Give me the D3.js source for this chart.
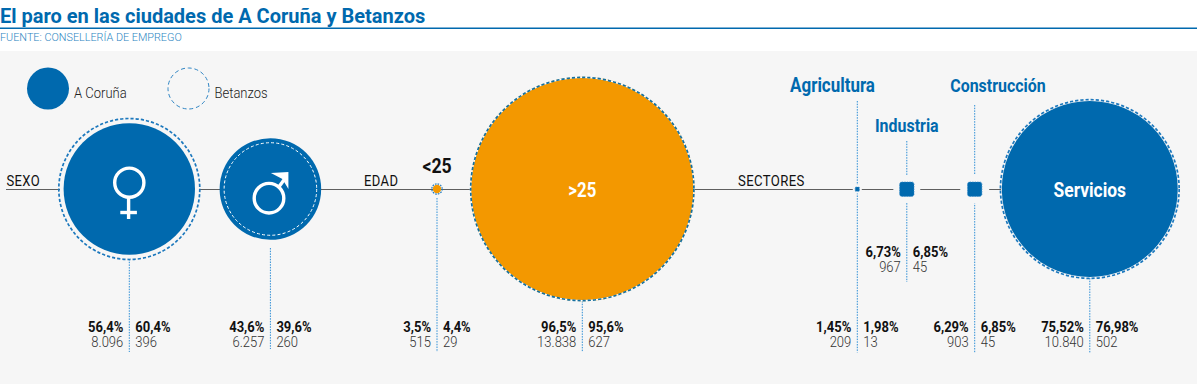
<!DOCTYPE html>
<html><head><meta charset="utf-8">
<script src="https://cdn.jsdelivr.net/npm/d3@7"></script>
<style>html,body{margin:0;padding:0;background:#fff}svg{display:block}text{font-family:Roboto,sans-serif}</style>
</head><body><div id="c"></div>
<script>
const titleText = "El paro en las ciudades de A Coruña y Betanzos";
const sourceText = "FUENTE: CONSELLERÍA DE EMPREGO";
const legendLabels = ["A Coruña", "Betanzos"];
const groupLabels = ["SEXO", "EDAD", "SECTORES"];
const categories = ["Mujeres", "Hombres", "<25", ">25", "Agricultura", "Industria", "Construcción", "Servicios"];
const corunaValues = [8096, 6257, 515, 13838, 209, 967, 903, 10840];
const betanzosValues = [396, 260, 29, 627, 13, 45, 45, 502];
const corunaPct = ["56,4%", "43,6%", "3,5%", "96,5%", "1,45%", "6,73%", "6,29%", "75,52%"];
const betanzosPct = ["60,4%", "39,6%", "4,4%", "95,6%", "1,98%", "6,85%", "6,85%", "76,98%"];

const W = 1197, H = 386, BLUE = "#0069ae", ORANGE = "#f39800", DOT = "#2f8fd6", LINE = "#5f5f5f", BG = "#f6f6f6";
const cxs = [129.3, 270.4, 437, 582.3, 857.3, 906.8, 974.7, 1089.8];
const cy = 189;
const lineY = 189.5;
const rC = d3.scaleLinear().domain([0, 13838]).range([0, 112.3]);
const rB = d3.scaleLinear().domain([0, 627]).range([0, 111.6]);
const fillOf = i => (i === 2 || i === 3) ? ORANGE : BLUE;

const svg = d3.select("#c").append("svg").attr("width", W).attr("height", H);
svg.append("rect").attr("width", W).attr("height", H).attr("fill", "#fff");
svg.append("rect").attr("y", 51).attr("width", W).attr("height", 333).attr("fill", BG);

function label(x, y, str, o) {
  o = Object.assign({size: 14, weight: 400, fill: "#222", anchor: "start", sx: 0.84, ls: 0}, o);
  return svg.append("text").attr("transform", `translate(${x},${y}) scale(${o.sx},1)`)
    .attr("text-anchor", o.anchor).attr("font-size", o.size).attr("font-weight", o.weight)
    .attr("fill", o.fill).attr("letter-spacing", o.ls).text(str);
}

label(0, 23, titleText, {size: 20, weight: 700, fill: BLUE, sx: 1});
svg.append("rect").attr("y", 27.5).attr("width", W).attr("height", 1.5).attr("fill", BLUE);
label(0, 41, sourceText, {size: 11, weight: 300, fill: "#2d86c2", sx: 0.985});

// legend
svg.append("circle").attr("cx", 48).attr("cy", 88.5).attr("r", 21).attr("fill", BLUE);
svg.append("circle").attr("cx", 188.5).attr("cy", 88.5).attr("r", 20.5).attr("fill", "none")
  .attr("stroke", "#2f85c4").attr("stroke-width", 1).attr("stroke-dasharray", "4 2.8");
label(74, 98, legendLabels[0], {size: 14, weight: 300, sx: 0.93});
label(214.5, 98, legendLabels[1], {size: 14, weight: 300, sx: 0.93});

// axis lines
[[6, 60], [200, 470], [695, 1001]].forEach(([a, b]) =>
  svg.append("line").attr("x1", a).attr("x2", b).attr("y1", lineY).attr("y2", lineY)
    .attr("stroke", LINE).attr("stroke-width", 1));
label(6.5, 186, groupLabels[0], {size: 14, sx: 0.93, ls: .4, fill: "#111"});
label(364, 186, groupLabels[1], {size: 14, sx: 0.93, ls: .4, fill: "#111"});
label(738, 186, groupLabels[2], {size: 14, sx: 0.94, ls: .4, fill: "#111"});

// dotted leader lines
const leaderTop = [259, 248, 198, 301, 101, 141, 105, 278];
const leaderEnd = [352, 349, 352, 352, 352.5, 282, 352.5, 352.5];
cxs.forEach((x, i) => svg.append("line").attr("x1", x).attr("x2", x)
  .attr("y1", leaderTop[i]).attr("y2", leaderEnd[i])
  .attr("stroke", DOT).attr("stroke-width", 1).attr("stroke-dasharray", "1.5 1.2"));

// halos cutting the lines round the small sector marks
[5, 6].forEach(i => svg.append("circle").attr("cx", cxs[i]).attr("cy", cy)
  .attr("r", rB(betanzosValues[i]) + 5.5 + (i === 6 ? 1 : 0)).attr("fill", BG));
svg.append("circle").attr("cx", cxs[4]).attr("cy", cy).attr("r", 4.6).attr("fill", BG);

// marks
categories.forEach((c, i) => {
  const a = rC(corunaValues[i]), b = rB(betanzosValues[i]), x = cxs[i];
  if (i >= 4 && i <= 6) {
    // the smallest sector marks read as rounded squares at this size
    const half = b * 0.9;
    svg.append("rect").attr("x", x - half).attr("y", lineY - half - .3)
      .attr("width", half * 2).attr("height", half * 2).attr("rx", half * .3)
      .attr("fill", BLUE).attr("stroke", "#3a8cc8").attr("stroke-width", .7).attr("stroke-dasharray", "1.5 1");
    return;
  }
  svg.append("circle").attr("cx", x).attr("cy", cy).attr("r", a).attr("fill", fillOf(i));
  if (i === 3) {
    svg.append("circle").attr("cx", x).attr("cy", cy).attr("r", b + .2).attr("fill", "none")
      .attr("stroke", "#fff").attr("stroke-width", 1.4);
  }
  const inner = b < a - 2;
  svg.append("circle").attr("cx", x).attr("cy", cy).attr("r", b).attr("fill", "none")
    .attr("stroke", inner ? "#fff" : (i === 3 ? "#15709f" : "#1c78bd"))
    .attr("stroke-width", inner ? 1 : (b > 20 ? 1.7 : 1.2))
    .attr("stroke-dasharray", inner ? "3 2.2" : (b > 20 ? "3.2 2" : "1.6 1.1"));
});

// gender glyphs
const W_ICON = 3.4;
const fx = cxs[0], mx = cxs[1];
svg.append("circle").attr("cx", fx).attr("cy", 182.7).attr("r", 14.6).attr("fill", "none").attr("stroke", "#fff").attr("stroke-width", W_ICON);
svg.append("line").attr("x1", fx - .7).attr("x2", fx - .7).attr("y1", 198).attr("y2", 219).attr("stroke", "#fff").attr("stroke-width", W_ICON);
svg.append("line").attr("x1", fx - 9).attr("x2", fx + 7.6).attr("y1", 212.5).attr("y2", 212.5).attr("stroke", "#fff").attr("stroke-width", W_ICON);
svg.append("circle").attr("cx", mx - 1.4).attr("cy", 198.2).attr("r", 14.8).attr("fill", "none").attr("stroke", "#fff").attr("stroke-width", W_ICON);
svg.append("line").attr("x1", mx + 8).attr("y1", 187.5).attr("x2", mx + 15).attr("y2", 178).attr("stroke", "#fff").attr("stroke-width", W_ICON);
svg.append("path").attr("d", `M${mx + .5},173 L${mx + 18},172 L${mx + 18},189 L${mx + 12},179 Z`).attr("fill", "#fff");

// category labels
const B = {weight: 700, anchor: "middle", sx: 0.84};
label(cxs[2], 173, categories[2], {...B, size: 21, fill: "#111"});
label(cxs[3], 196.5, categories[3], {...B, size: 20, fill: "#fff"});
label(832.5, 92, categories[4], {...B, size: 19.5, sx: .87, fill: BLUE});
label(cxs[5], 132, categories[5], {...B, size: 19, fill: BLUE});
label(998, 92, categories[6], {...B, size: 19, fill: BLUE});
label(cxs[7], 197, categories[7], {...B, size: 20, sx: .87, fill: "#fff"});

// numbers
categories.forEach((c, i) => {
  const up = i === 5 ? 75 : 0, x = cxs[i];
  label(x - 6, 332 - up, corunaPct[i], {size: 15.5, weight: 700, anchor: "end", fill: "#111"});
  label(x + 6, 332 - up, betanzosPct[i], {size: 15.5, weight: 700, fill: "#111"});
  label(x - 6, 347 - up, d3.format(",")(corunaValues[i]).replace(/,/g, "."), {size: 15.5, weight: 300, anchor: "end", fill: "#333"});
  label(x + 6, 347 - up, betanzosValues[i], {size: 15.5, weight: 300, fill: "#333"});
});
</script></body></html>
